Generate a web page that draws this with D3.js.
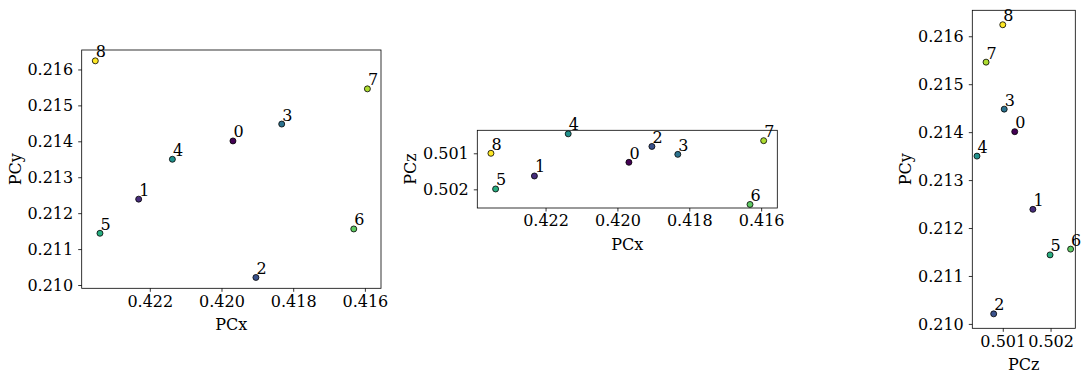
<!DOCTYPE html>
<html>
<head>
<meta charset="utf-8">
<script src="https://cdn.jsdelivr.net/npm/d3@7"></script>
<style>
  body { margin: 0; background: #fff; }
  svg { display: block; }
  text { font-family: "DejaVu Serif", serif; fill: #000; }
</style>
</head>
<body>
<div id="chart"></div>
<script>
// point values
var labels = ["0", "1", "2", "3", "4", "5", "6", "7", "8"];
var pcx = [0.41968, 0.42231, 0.41904, 0.41832, 0.42137, 0.42339, 0.41631, 0.41593, 0.42352];
var pcy = [0.21401, 0.21239, 0.21021, 0.21448, 0.21350, 0.21144, 0.21156, 0.21546, 0.21624];
var pcz = [0.50125, 0.50163, 0.50081, 0.50103, 0.50046, 0.50199, 0.50242, 0.50065, 0.50100];

var xTicks = [0.422, 0.420, 0.418, 0.416];
var yTicks = [0.210, 0.211, 0.212, 0.213, 0.214, 0.215, 0.216];
var zTicks = [0.501, 0.502];

var W = 1088, H = 381;
var fontSize = 16;

var svg = d3.select('#chart').append('svg')
  .attr('width', W).attr('height', H);

// padded domain like matplotlib (5% margins)
function padded(vals, flip) {
  var e = d3.extent(vals), m = (e[1] - e[0]) * 0.05;
  var d = [e[0] - m, e[1] + m];
  return flip ? [d[1], d[0]] : d;
}

var panels = [
  { box: [81.7, 50, 381, 288.3], xs: pcx, ys: pcy, xDom: padded(pcx, true), yDom: padded(pcy, false),
    xTicks: xTicks, yTicks: yTicks, xLabel: 'PCx', yLabel: 'PCy' },
  { box: [477.3, 130.3, 777.3, 208], xs: pcx, ys: pcz, xDom: padded(pcx, true), yDom: padded(pcz, true),
    xTicks: xTicks, yTicks: zTicks, xLabel: 'PCx', yLabel: 'PCz' },
  { box: [972.3, 10.3, 1075.3, 328.3], xs: pcz, ys: pcy, xDom: padded(pcz, false), yDom: padded(pcy, false),
    xTicks: zTicks, yTicks: yTicks, xLabel: 'PCz', yLabel: 'PCy' }
];

var color = function(i) { return d3.interpolateViridis(i / (labels.length - 1)); };
var fmt = d3.format('.3f');

panels.forEach(function(p) {
  var x0 = p.box[0], y0 = p.box[1], x1 = p.box[2], y1 = p.box[3];
  var x = d3.scaleLinear().domain(p.xDom).range([x0, x1]);
  var y = d3.scaleLinear().domain(p.yDom).range([y1, y0]);
  var g = svg.append('g');

  var xa = g.append('g').attr('transform', 'translate(0,' + y1 + ')')
    .call(d3.axisBottom(x).tickValues(p.xTicks).tickFormat(fmt).tickSize(3.5).tickPadding(3.5).tickSizeOuter(0));
  var ya = g.append('g').attr('transform', 'translate(' + x0 + ',0)')
    .call(d3.axisLeft(y).tickValues(p.yTicks).tickFormat(fmt).tickSize(3.5).tickPadding(5).tickSizeOuter(0));
  [xa, ya].forEach(function(a) {
    a.select('.domain').remove();
    a.selectAll('line').attr('stroke', '#000').attr('stroke-width', 0.8);
    a.selectAll('text').style('font-size', fontSize + 'px').style('font-family', '"DejaVu Serif", serif').attr('fill', '#000');
  });

  g.append('rect')
    .attr('x', x0).attr('y', y0)
    .attr('width', x1 - x0).attr('height', y1 - y0)
    .attr('fill', 'none').attr('stroke', '#000').attr('stroke-width', 0.8);

  g.append('text')
    .attr('x', (x0 + x1) / 2).attr('y', y1 + 41.5)
    .attr('text-anchor', 'middle')
    .style('font-size', fontSize + 'px')
    .text(p.xLabel);

  g.append('text')
    .attr('transform', 'translate(' + (x0 - 66.5) + ',' + ((y0 + y1) / 2) + ') rotate(-90)')
    .attr('text-anchor', 'middle').attr('dy', '0.35em')
    .style('font-size', fontSize + 'px')
    .text(p.yLabel);

  var idx = d3.range(labels.length);
  g.selectAll('circle.pt').data(idx).enter().append('circle')
    .attr('class', 'pt')
    .attr('cx', function(i) { return x(p.xs[i]); })
    .attr('cy', function(i) { return y(p.ys[i]); })
    .attr('r', 3)
    .attr('fill', function(i) { return color(i); })
    .attr('stroke', '#000').attr('stroke-width', 0.8);

  g.selectAll('text.lbl').data(idx).enter().append('text')
    .attr('class', 'lbl')
    .attr('x', function(i) { return x(p.xs[i]) + 0.5; })
    .attr('y', function(i) { return y(p.ys[i]) - 3.5; })
    .style('font-size', fontSize + 'px')
    .text(function(i) { return labels[i]; });
});
</script>
</body>
</html>
